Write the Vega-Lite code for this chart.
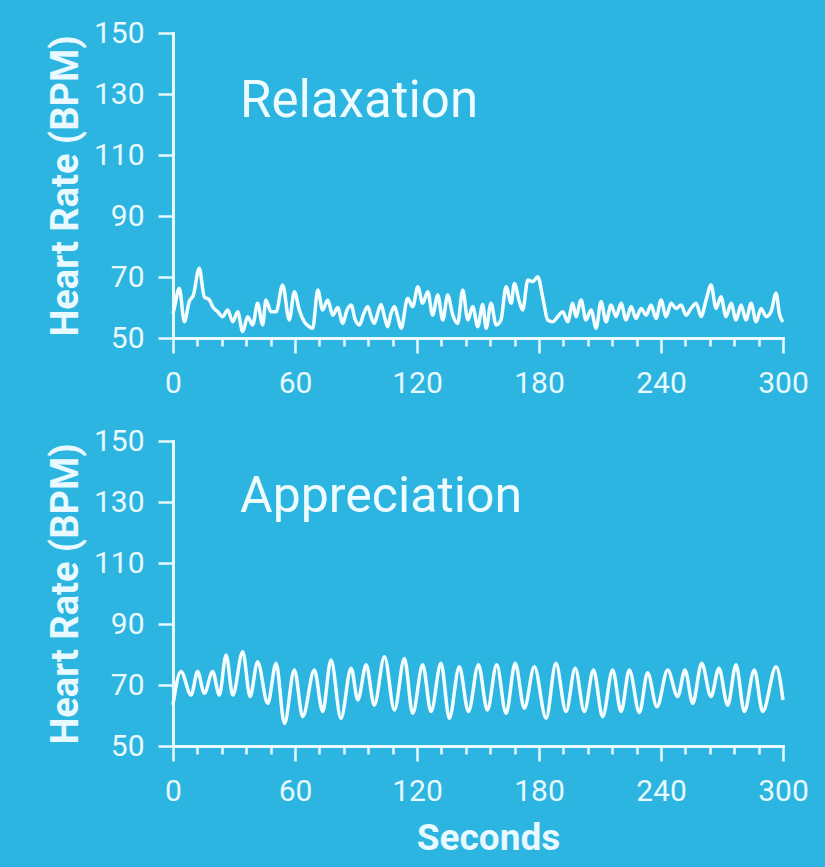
{
  "$schema": "https://vega.github.io/schema/vega-lite/v6.json",
  "background": "#2bb5e0",
  "padding": {"left": 47, "top": 18, "right": 18, "bottom": 11},
  "autosize": {"type": "pad"},
  "spacing": 103,
  "bounds": "flush",
  "datasets": {
    "relax": [
      {"s":0,"v":58},{"s":0.7,"v":60},{"s":3.1,"v":66.3},{"s":5.6,"v":55.3},{"s":8,"v":62},{"s":10,"v":64},{"s":12.9,"v":72.9},{"s":15.4,"v":63.5},{"s":17.9,"v":62.5},{"s":19.5,"v":60.3},{"s":22,"v":58.6},{"s":24.4,"v":57},{"s":26.9,"v":59.2},{"s":29.4,"v":55.3},{"s":31.8,"v":58.6},{"s":34.3,"v":52.1},{"s":36.7,"v":57},{"s":39.2,"v":54.3},{"s":41.6,"v":61.4},{"s":44.1,"v":54.3},{"s":45.7,"v":62.5},{"s":48.2,"v":58.6},{"s":50.7,"v":58.6},{"s":53.9,"v":67.4},{"s":57.2,"v":55.9},{"s":59.7,"v":65.2},{"s":62.1,"v":59.2},{"s":64.6,"v":55.3},{"s":67.1,"v":53.7},{"s":68.7,"v":53.2},{"s":71.2,"v":65.7},{"s":73.6,"v":59.2},{"s":76.1,"v":62.5},{"s":78.6,"v":57.5},{"s":81,"v":60},{"s":83.5,"v":54.8},{"s":85.5,"v":59},{"s":87.6,"v":60.8},{"s":89.6,"v":56},{"s":91.7,"v":54.3},{"s":93.8,"v":58},{"s":95.8,"v":60.3},{"s":97.4,"v":57},{"s":99,"v":54.8},{"s":100.6,"v":58},{"s":102.3,"v":61},{"s":104,"v":57},{"s":105.6,"v":53.7},{"s":107.2,"v":58},{"s":108.9,"v":60.3},{"s":110.5,"v":57},{"s":112.2,"v":53.2},{"s":115.4,"v":63},{"s":117.9,"v":60.3},{"s":120.4,"v":66.8},{"s":122.8,"v":61.4},{"s":125.3,"v":65.2},{"s":127.7,"v":57.5},{"s":130.2,"v":64.1},{"s":132.7,"v":55.9},{"s":135.1,"v":64.1},{"s":137.6,"v":57.5},{"s":140,"v":54.8},{"s":142.5,"v":65.7},{"s":145,"v":55.9},{"s":147.4,"v":60.3},{"s":149.9,"v":53.7},{"s":152.3,"v":61},{"s":154,"v":53.2},{"s":156.4,"v":61.4},{"s":158.9,"v":54.3},{"s":161.3,"v":55.9},{"s":163.8,"v":66.8},{"s":166.3,"v":61.4},{"s":167.9,"v":67.9},{"s":170.3,"v":62},{"s":172,"v":59.2},{"s":174.5,"v":69},{"s":176.9,"v":68.5},{"s":179.4,"v":70.1},{"s":181.8,"v":63.5},{"s":184.3,"v":55.9},{"s":186.8,"v":55.3},{"s":189.2,"v":57},{"s":191.7,"v":58.6},{"s":194.1,"v":55.3},{"s":196.6,"v":61.4},{"s":198.2,"v":57},{"s":200.7,"v":62.5},{"s":203.1,"v":55.9},{"s":205.6,"v":59.2},{"s":208.1,"v":53.2},{"s":210.5,"v":62},{"s":213,"v":55.3},{"s":215.4,"v":60.8},{"s":217.9,"v":57},{"s":220.4,"v":61.4},{"s":222.8,"v":55.9},{"s":225.3,"v":60.3},{"s":227.7,"v":56.4},{"s":230.2,"v":59.7},{"s":232.7,"v":57.5},{"s":235.1,"v":60.8},{"s":237.6,"v":56.4},{"s":240,"v":62.5},{"s":242.5,"v":57},{"s":245,"v":61.4},{"s":247.4,"v":59.7},{"s":249.9,"v":60.8},{"s":252.3,"v":57.5},{"s":254.8,"v":59.7},{"s":257.3,"v":61.4},{"s":259.7,"v":57},{"s":262.2,"v":62.5},{"s":264.6,"v":67.4},{"s":267.1,"v":59.7},{"s":269.5,"v":63.5},{"s":272,"v":57},{"s":274.5,"v":61.4},{"s":276.9,"v":55.9},{"s":279.4,"v":60.8},{"s":281.8,"v":55.9},{"s":284.3,"v":61.4},{"s":286.8,"v":55.3},{"s":289.2,"v":59.7},{"s":291.7,"v":57},{"s":294.1,"v":58.6},{"s":296.6,"v":64.7},{"s":298.2,"v":58},{"s":300,"v":55.3}
    ],
    "appr": [
      {"s":0,"v":63.5},{"s":3.9,"v":74.4},{"s":8.9,"v":66.7},{"s":12.1,"v":74.4},{"s":15.4,"v":67.3},{"s":19.5,"v":74.4},{"s":22.8,"v":66.7},{"s":26.1,"v":79.8},{"s":29.4,"v":66.7},{"s":34.3,"v":80.9},{"s":37.9,"v":66.2},{"s":41.6,"v":77.6},{"s":46.6,"v":64},{"s":50.7,"v":77.1},{"s":54.8,"v":57.4},{"s":59.7,"v":74.9},{"s":63.8,"v":59.6},{"s":69.5,"v":74.9},{"s":73.6,"v":61.3},{"s":77.7,"v":78.2},{"s":82.6,"v":59.1},{"s":87.6,"v":75.5},{"s":90.9,"v":65.1},{"s":95,"v":76.6},{"s":99,"v":63.4},{"s":104,"v":79.3},{"s":108.9,"v":61.8},{"s":113.8,"v":78.7},{"s":117.9,"v":60.7},{"s":122.8,"v":76.6},{"s":126.9,"v":61.3},{"s":131.8,"v":77.1},{"s":135.9,"v":59.1},{"s":140.8,"v":76},{"s":145.3,"v":61.3},{"s":150.2,"v":76.6},{"s":154.6,"v":61.8},{"s":159.2,"v":76.6},{"s":163.8,"v":60.7},{"s":168.3,"v":77.1},{"s":172.8,"v":62.4},{"s":177.7,"v":76},{"s":183.5,"v":59.1},{"s":188.3,"v":77.1},{"s":193.3,"v":61.3},{"s":197.8,"v":75.5},{"s":202.3,"v":61.3},{"s":206.8,"v":74.9},{"s":211.3,"v":59.6},{"s":216.2,"v":74.9},{"s":220.4,"v":61.3},{"s":224.4,"v":74.9},{"s":229.4,"v":61},{"s":233.4,"v":74},{"s":238,"v":62.9},{"s":243.3,"v":74.9},{"s":248.2,"v":66.2},{"s":251.8,"v":74.9},{"s":255.6,"v":64},{"s":260,"v":77.1},{"s":264.6,"v":66.2},{"s":268.5,"v":75.5},{"s":272.8,"v":63.4},{"s":276.9,"v":76.6},{"s":281,"v":61.3},{"s":285.9,"v":74.9},{"s":290,"v":61.3},{"s":296.6,"v":76},{"s":300,"v":65.1}
    ]
  },
  "config": {
    "view": {"stroke": null},
    "font": "Roboto",
    "axis": {
      "domainColor": "#e8f9ff", "domainWidth": 3, "domainCap": "square",
      "tickColor": "#e8f9ff", "tickWidth": 2.5,
      "labelColor": "#e8f9ff", "labelFont": "Roboto", "labelFontSize": 30,
      "titleColor": "#e8f9ff", "titleFont": "Roboto", "titleFontSize": 38, "titleFontWeight": "bold",
      "grid": false, "labelFlush": false, "labelBound": false
    }
  },
  "vconcat": [
    {
      "width": 610, "height": 305,
      "resolve": {"axis": {"x": "independent"}},
      "layer": [
        {
          "data": {"name": "relax"},
          "mark": {"type": "line", "color": "#f4fdff", "strokeWidth": 3.5, "strokeJoin": "round", "interpolate": "monotone"},
          "encoding": {
            "x": {"field": "s", "type": "quantitative", "scale": {"domain": [0, 300], "nice": false},
              "axis": {"title": null, "orient": "bottom", "values": [12,24,36,48,72,84,96,108,132,144,156,168,192,204,216,228,252,264,276,288],
                "labels": false, "tickSize": 8}},
            "y": {"field": "v", "type": "quantitative", "scale": {"domain": [50, 150], "nice": false, "zero": false},
              "axis": {"title": "Heart Rate (BPM)", "values": [50,60,70,80,90,100,110,120,130,140,150],
                "labelExpr": "datum.value % 20 === 10 ? datum.label : ''",
                "labelOverlap": false,
                "tickSize": {"condition": {"test": "datum.value % 20 === 10", "value": 15}, "value": 8},
                "labelPadding": 14, "titlePadding": 8}}
          }
        },
        {
          "data": {"values": [{"s": 33, "v": 122.5, "t": "Relaxation"}]},
          "mark": {"type": "text", "align": "left", "baseline": "alphabetic", "fontSize": 51, "font": "Roboto", "color": "#eefbff"},
          "encoding": {
            "x": {"field": "s", "type": "quantitative",
              "axis": {"title": null, "orient": "bottom", "values": [0,60,120,180,240,300], "domain": false,
                "tickSize": 15, "labelPadding": 15, "labelOverlap": false}},
            "y": {"field": "v", "type": "quantitative"},
            "text": {"field": "t"}
          }
        }
      ]
    },
    {
      "width": 610, "height": 305,
      "resolve": {"axis": {"x": "independent"}},
      "layer": [
        {
          "data": {"name": "appr"},
          "mark": {"type": "line", "color": "#f4fdff", "strokeWidth": 3.5, "strokeJoin": "round", "interpolate": "monotone"},
          "encoding": {
            "x": {"field": "s", "type": "quantitative", "scale": {"domain": [0, 300], "nice": false},
              "axis": {"title": null, "orient": "bottom", "values": [12,24,36,48,72,84,96,108,132,144,156,168,192,204,216,228,252,264,276,288],
                "labels": false, "tickSize": 8}},
            "y": {"field": "v", "type": "quantitative", "scale": {"domain": [50, 150], "nice": false, "zero": false},
              "axis": {"title": "Heart Rate (BPM)", "values": [50,60,70,80,90,100,110,120,130,140,150],
                "labelExpr": "datum.value % 20 === 10 ? datum.label : ''",
                "labelOverlap": false,
                "tickSize": {"condition": {"test": "datum.value % 20 === 10", "value": 15}, "value": 8},
                "labelPadding": 14, "titlePadding": 8}}
          }
        },
        {
          "data": {"values": [{"s": 33, "v": 126.8, "t": "Appreciation"}]},
          "mark": {"type": "text", "align": "left", "baseline": "alphabetic", "fontSize": 50, "font": "Roboto", "color": "#eefbff"},
          "encoding": {
            "x": {"field": "s", "type": "quantitative",
              "axis": {"title": "Seconds", "orient": "bottom", "values": [0,60,120,180,240,300], "domain": false,
                "tickSize": 15, "labelPadding": 15, "labelOverlap": false,
                "titlePadding": 14, "titleX": 315, "titleFontSize": 37}},
            "y": {"field": "v", "type": "quantitative"},
            "text": {"field": "t"}
          }
        }
      ]
    }
  ]
}
